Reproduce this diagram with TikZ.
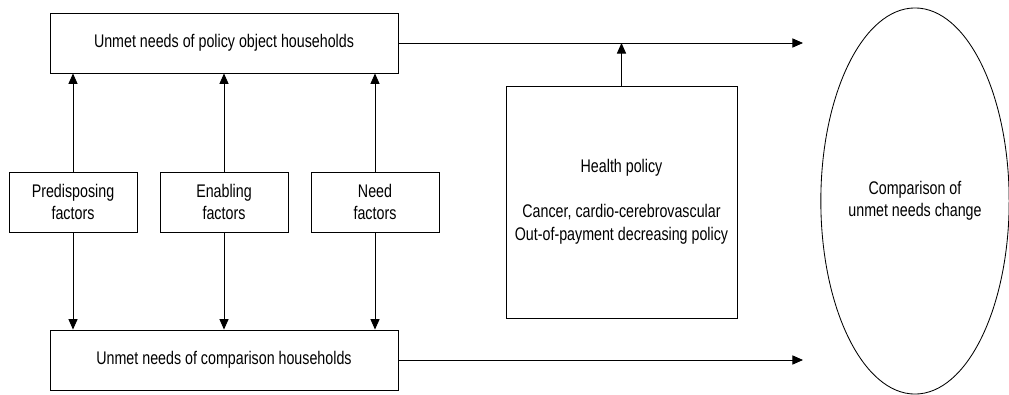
\documentclass[tikz,border=0pt]{standalone}
\usepackage{fontspec}
\setmainfont[FakeStretch=0.78]{Liberation Sans}
\usetikzlibrary{arrows.meta,shapes.geometric}
\begin{document}
\begin{tikzpicture}[x=0.025cm, y=-0.025cm, line width=0.6pt, >={Triangle[length=7.5pt,width=6.5pt]},
	box/.style={draw, align=center, inner sep=0pt, font=\fontsize{13}{16}\selectfont},
	wide/.style={box, minimum width=8.7cm, minimum height=1.5cm},
	factor/.style={box, minimum width=3.2cm, minimum height=1.5cm}]
	\useasboundingbox (0,0) rectangle (1009,395);
	\node[wide] (obj) at (224,43) {Unmet needs of policy object households};
	\node[wide] (cmp) at (224,360) {Unmet needs of comparison households};
	\node[factor] (pre) at (73,202) {Predisposing\\factors};
	\node[factor] (ena) at (224,202) {Enabling\\factors};
	\node[factor] (need) at (375,202) {Need\\factors};
	\node[box, minimum width=5.775cm, minimum height=5.8cm] (hp) at (621.5,202) {Health policy\\[16pt]Cancer, cardio-cerebrovascular\\Out-of-payment decreasing policy};
	\node[box, ellipse, minimum width=4.6cm, minimum height=9.65cm] (chg) at (915,201) {Comparison of\\unmet needs change};
	\coordinate (e1) at (803,43);
	\coordinate (e2) at (803,360);
	\draw[->] (obj.east) -- (e1);
	\draw[->] (cmp.east) -- (e2);
	\draw[->] (hp.north) -- (hp.north |- obj.east);
	\foreach \f in {pre,ena,need} {
		\draw[->] (\f.north) -- (\f.north |- obj.south);
		\draw[->] (\f.south) -- (\f.south |- cmp.north);
	}
\end{tikzpicture}
\end{document}
